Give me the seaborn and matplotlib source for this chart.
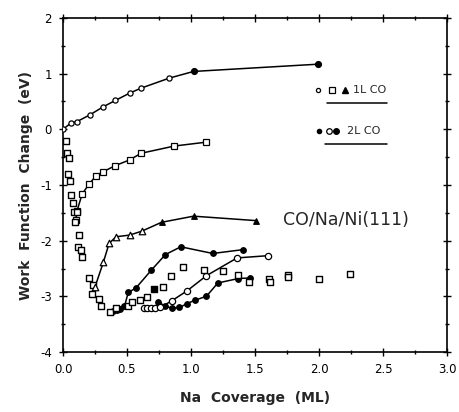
import matplotlib
matplotlib.use("Agg")
import matplotlib.pyplot as plt
import seaborn as sns
import pandas as pd
from matplotlib.ticker import MultipleLocator

# ---- data ----
top_x = [0.0, 0.06, 0.11, 0.21, 0.31, 0.41, 0.52, 0.61, 0.83, 1.02, 1.99]
top_y = [0.0, 0.11, 0.14, 0.26, 0.40, 0.52, 0.65, 0.74, 0.92, 1.04, 1.17]
top_filled = [False] * 9 + [True, True]

sqline_x = [0.10, 0.11, 0.15, 0.205, 0.26, 0.315, 0.41, 0.52, 0.61, 0.87, 1.12]
sqline_y = [-1.62, -1.46, -1.16, -0.98, -0.83, -0.76, -0.65, -0.55, -0.43, -0.30, -0.23]

sq_x = [0.02, 0.03, 0.05, 0.04, 0.055, 0.06, 0.075, 0.086, 0.107, 0.094, 0.127,
        0.12, 0.138, 0.146, 0.205, 0.232, 0.224, 0.284, 0.294, 0.367, 0.414,
        0.51, 0.537, 0.60, 0.66, 0.78, 0.84, 0.935, 1.10, 1.25, 1.37, 1.45,
        1.61, 1.62, 1.76, 1.76, 2.0, 2.24]
sq_y = [-0.21, -0.43, -0.51, -0.80, -0.92, -1.18, -1.32, -1.49, -1.49, -1.67, -1.89,
        -2.11, -2.16, -2.29, -2.67, -2.80, -2.95, -3.05, -3.18, -3.29, -3.21,
        -3.18, -3.11, -3.06, -3.02, -2.83, -2.63, -2.47, -2.53, -2.55, -2.61, -2.74,
        -2.68, -2.74, -2.61, -2.66, -2.68, -2.59]

fsq_x = [0.71]
fsq_y = [-2.86]

tri_x = [0.25, 0.315, 0.36, 0.414, 0.52, 0.615, 0.77, 1.02, 1.51]
tri_y = [-2.83, -2.39, -2.05, -1.93, -1.90, -1.83, -1.67, -1.56, -1.64]
tri_filled = [False] * 6 + [True, True, True]

fa_x = [0.39, 0.42, 0.445, 0.48, 0.51, 0.57, 0.69, 0.80, 0.92, 1.17, 1.41]
fa_y = [-3.27, -3.24, -3.22, -3.18, -2.93, -2.85, -2.53, -2.25, -2.11, -2.23, -2.16]

fb_x = [0.745, 0.80, 0.85, 0.91, 0.97, 1.03, 1.12, 1.21, 1.37, 1.46]
fb_y = [-3.10, -3.18, -3.21, -3.20, -3.13, -3.07, -3.00, -2.76, -2.68, -2.67]

oc_x = [0.63, 0.66, 0.69, 0.72, 0.76, 0.85, 0.97, 1.12, 1.36, 1.60]
oc_y = [-3.21, -3.21, -3.21, -3.21, -3.20, -3.08, -2.90, -2.63, -2.31, -2.27]

x_ticks = [0.0, 0.5, 1.0, 1.5, 2.0, 2.5, 3.0]
x_ticklabels = ["0.0", "0.5", "1.0", "1.5", "2.0", "2.5", "3.0"]
y_ticks = [2, 1, 0, -1, -2, -3, -4]
y_ticklabels = ["2", "1", "0", "-1", "-2", "-3", "-4"]

# ---- figure ----
sns.set_style("ticks")
plt.rcParams["font.family"] = ["DejaVu Sans"]

fig = plt.figure(figsize=(4.59, 4.12), dpi=100)
ax = fig.add_axes([63 / 459, 1 - 352 / 412, 384 / 459, 334 / 412])

lw = 1.1
k = "black"

def line(x, y, marker, ms, face):
    sns.lineplot(x=x, y=y, ax=ax, sort=False, estimator=None, color=k, lw=lw,
                 marker=marker, markersize=ms, markerfacecolor=face,
                 markeredgecolor=k, markeredgewidth=0.9)

# top curve (open small circles, last two filled)
sns.lineplot(x=top_x, y=top_y, ax=ax, sort=False, estimator=None, color=k, lw=lw)
df_top = pd.DataFrame({"x": top_x, "y": top_y, "f": top_filled})
sns.scatterplot(data=df_top[~df_top.f], x="x", y="y", ax=ax, marker="o", s=14,
                facecolor="white", edgecolor=k, linewidth=0.9, zorder=3)
sns.scatterplot(data=df_top[df_top.f], x="x", y="y", ax=ax, marker="o", s=18,
                color=k, edgecolor=k, linewidth=0.9, zorder=3)

line(sqline_x, sqline_y, "s", 5, "white")
sns.scatterplot(x=sq_x, y=sq_y, ax=ax, marker="s", s=24, facecolor="white",
                edgecolor=k, linewidth=1.0, zorder=3)
sns.scatterplot(x=fsq_x, y=fsq_y, ax=ax, marker="s", s=24, color=k,
                edgecolor=k, linewidth=1.0, zorder=3)

# triangles: line, then open / filled markers
sns.lineplot(x=tri_x, y=tri_y, ax=ax, sort=False, estimator=None, color=k, lw=lw)
df_tri = pd.DataFrame({"x": tri_x, "y": tri_y, "f": tri_filled})
sns.scatterplot(data=df_tri[~df_tri.f], x="x", y="y", ax=ax, marker="^", s=22,
                facecolor="white", edgecolor=k, linewidth=0.9, zorder=3)
sns.scatterplot(data=df_tri[df_tri.f], x="x", y="y", ax=ax, marker="^", s=16,
                color=k, edgecolor=k, linewidth=0.9, zorder=3)

line(fa_x, fa_y, "o", 4, k)
line(fb_x, fb_y, "o", 4, k)
line(oc_x, oc_y, "o", 4.5, "white")

ax.set_xlim(0, 3.0)
ax.set_ylim(-4, 2)
ax.set_xticks(x_ticks)
ax.set_xticklabels(x_ticklabels)
ax.set_yticks(y_ticks)
ax.set_yticklabels(y_ticklabels)
ax.xaxis.set_minor_locator(MultipleLocator(0.25))
ax.yaxis.set_minor_locator(MultipleLocator(0.5))
ax.tick_params(which="both", direction="inout", top=True, right=True,
               labeltop=False, labelright=False, width=1.0, colors=k)
ax.tick_params(which="major", length=6, labelsize=8.5, pad=5)
ax.tick_params(which="minor", length=3)
for s in ax.spines.values():
    s.set_linewidth(1.2)
    s.set_color(k)

ax.set_xlabel("Na  Coverage  (ML)", fontsize=10, fontweight="bold", labelpad=11)
ax.set_ylabel("Work  Function  Change  (eV)", fontsize=10, fontweight="bold",
              labelpad=5)

# legend-like annotation
tr = ax.transAxes
ax.plot([0.664], [0.784], "o", ms=3, mfc="white", mec=k, mew=0.9, transform=tr)
ax.plot([0.701], [0.784], "s", ms=4.5, mfc="white", mec=k, mew=0.9, transform=tr)
ax.plot([0.734], [0.784], "^", ms=4.5, mfc=k, mec=k, transform=tr)
ax.text(0.755, 0.784, "1L CO", fontsize=8, va="center", ha="left", transform=tr)
ax.plot([0.6875, 0.844], [0.746, 0.746], color=k, lw=1.1, transform=tr)

ax.plot([0.667], [0.663], "o", ms=3, mfc=k, mec=k, transform=tr)
ax.plot([0.693], [0.663], "o", ms=4, mfc="white", mec=k, mew=0.9, transform=tr)
ax.plot([0.712], [0.663], "o", ms=4, mfc=k, mec=k, transform=tr)
ax.text(0.740, 0.663, "2L CO", fontsize=8, va="center", ha="left", transform=tr)
ax.plot([0.682, 0.844], [0.623, 0.623], color=k, lw=1.1, transform=tr)

ax.text(0.738, 0.395, "CO/Na/Ni(111)", fontsize=12.5, va="center", ha="center",
        transform=tr)

fig.savefig("out.png", dpi=100)
